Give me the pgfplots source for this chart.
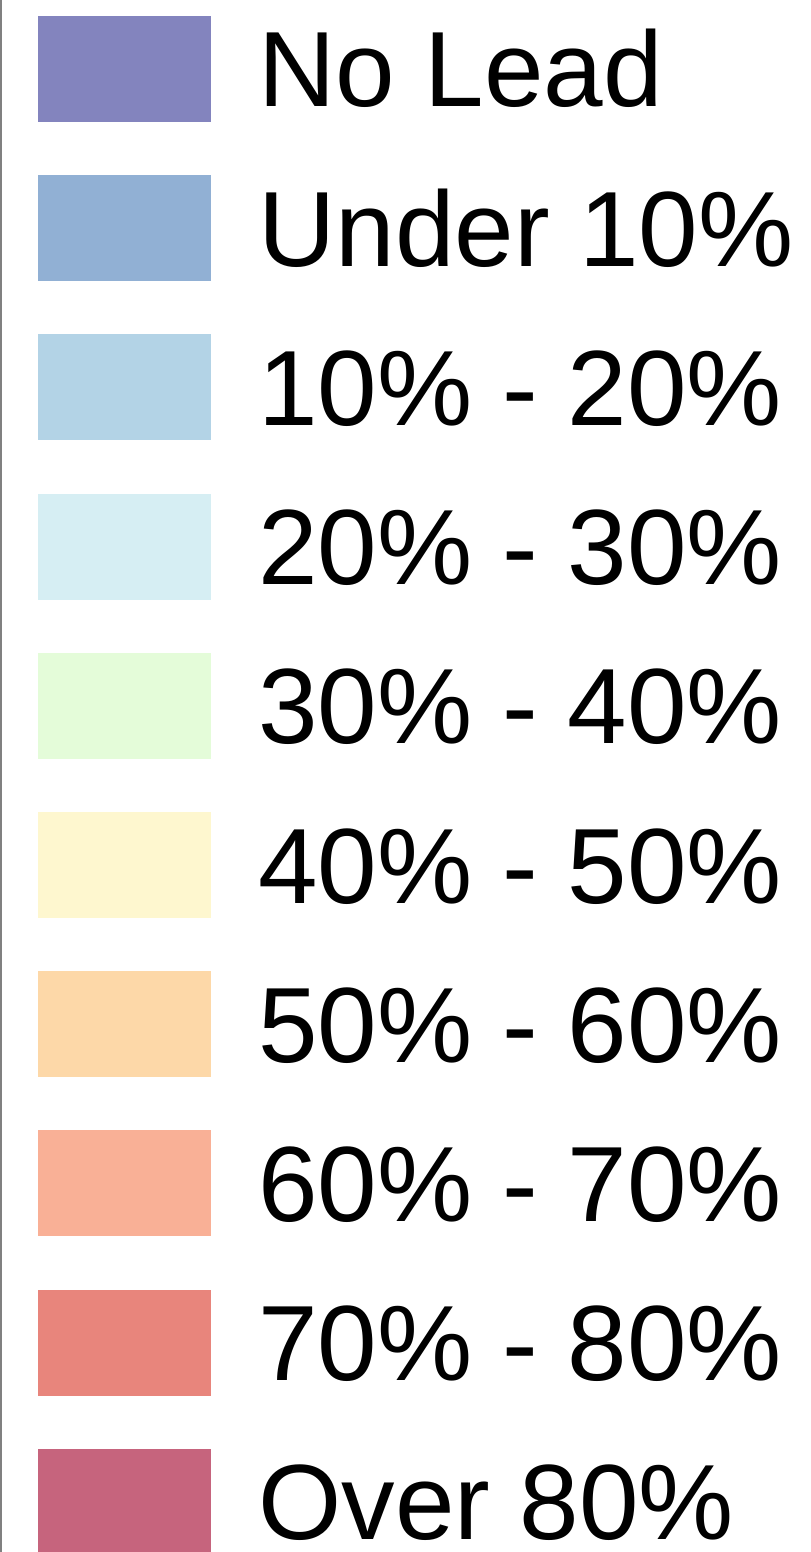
\documentclass[border=0pt]{standalone}
\usepackage{fontspec}
\setmainfont{Liberation Sans}
\usepackage{pgfplots}
\pgfplotsset{compat=1.18}

\definecolor{c0}{HTML}{8384BE}
\definecolor{c1}{HTML}{91B0D4}
\definecolor{c2}{HTML}{B3D3E6}
\definecolor{c3}{HTML}{D6EEF3}
\definecolor{c4}{HTML}{E4FCD9}
\definecolor{c5}{HTML}{FEF7CF}
\definecolor{c6}{HTML}{FDD8A8}
\definecolor{c7}{HTML}{F9B096}
\definecolor{c8}{HTML}{E8857C}
\definecolor{c9}{HTML}{C6647D}

\begin{document}
\begin{tikzpicture}
\begin{axis}[
    width=405pt, height=776pt, scale only axis,
    hide axis,
    xmin=0, xmax=810, ymin=0, ymax=1552,
    y dir=reverse,
    every axis plot/.append style={draw=none},
    nodes={font=\fontsize{53.5}{60}\selectfont, anchor=base west, inner sep=0pt, text depth=0pt},
]
% page frame
\addplot[draw=none] coordinates {(0,0) (810,1552)};
% left edge of the legend box
\addplot[draw=gray, line width=1pt] coordinates {(1,0) (1,1552)};

% swatches
\addplot[fill=c0] coordinates {(38,16) (211,16) (211,122) (38,122)} -- cycle;
\addplot[fill=c1] coordinates {(38,175.2) (211,175.2) (211,281.2) (38,281.2)} -- cycle;
\addplot[fill=c2] coordinates {(38,334.4) (211,334.4) (211,440.4) (38,440.4)} -- cycle;
\addplot[fill=c3] coordinates {(38,493.6) (211,493.6) (211,599.6) (38,599.6)} -- cycle;
\addplot[fill=c4] coordinates {(38,652.8) (211,652.8) (211,758.8) (38,758.8)} -- cycle;
\addplot[fill=c5] coordinates {(38,812) (211,812) (211,918) (38,918)} -- cycle;
\addplot[fill=c6] coordinates {(38,971.2) (211,971.2) (211,1077.2) (38,1077.2)} -- cycle;
\addplot[fill=c7] coordinates {(38,1130.4) (211,1130.4) (211,1236.4) (38,1236.4)} -- cycle;
\addplot[fill=c8] coordinates {(38,1289.6) (211,1289.6) (211,1395.6) (38,1395.6)} -- cycle;
\addplot[fill=c9] coordinates {(38,1448.8) (211,1448.8) (211,1554.8) (38,1554.8)} -- cycle;

% labels
\node at (axis cs:258,107) {No Lead};
\node at (axis cs:258,266.2) {Under 10\%};
\node at (axis cs:258,425.4) {10\% - 20\%};
\node at (axis cs:258,584.6) {20\% - 30\%};
\node at (axis cs:258,743.8) {30\% - 40\%};
\node at (axis cs:258,903) {40\% - 50\%};
\node at (axis cs:258,1062.2) {50\% - 60\%};
\node at (axis cs:258,1221.4) {60\% - 70\%};
\node at (axis cs:258,1380.6) {70\% - 80\%};
\node at (axis cs:258,1539.8) {Over 80\%};
\end{axis}
\end{tikzpicture}
\end{document}
